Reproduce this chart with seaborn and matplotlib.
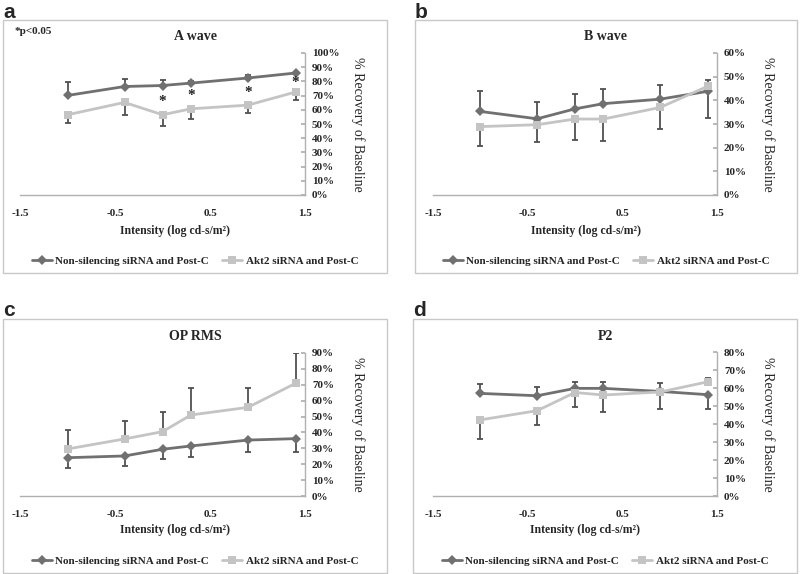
"""
ERG recovery panels (A wave, B wave, OP RMS, P2) — non-silencing vs Akt2 siRNA.
"""

import numpy as np
import pandas as pd
import matplotlib
matplotlib.use("Agg")
import matplotlib.pyplot as plt
from matplotlib.patches import Rectangle
from matplotlib.ticker import PercentFormatter, MultipleLocator
import seaborn as sns

# ── Data (% recovery of baseline) ────────────────────────────────────────────
intensity = [-1.0, -0.4, 0.0, 0.3, 0.9, 1.4]
groups = ["Non-silencing siRNA and Post-C", "Akt2 siRNA and Post-C"]

a_ns      = [70.1, 76.4, 77.1, 78.8, 82.4, 85.9]
a_ns_err  = [9.2, 5.5, 3.6, 1.8, 2.3, 1.0]
a_akt     = [56.5, 65.2, 56.5, 60.7, 63.3, 72.5]
a_akt_err = [5.9, 9.2, 7.6, 7.1, 5.7, 5.5]
star_x    = [0.0, 0.3, 0.9, 1.4]
star_y    = [67.0, 71.0, 73.5, 80.5]

b_ns      = [35.3, 32.2, 36.4, 38.6, 40.5, 43.8]
b_ns_err  = [8.5, 6.9, 6.4, 6.2, 5.8, 11.3]
b_akt     = [28.9, 29.7, 32.1, 32.1, 37.0, 45.9]
b_akt_err = [8.4, 7.5, 8.8, 9.2, 9.2, 2.8]

c_ns      = [24.1, 25.2, 29.4, 31.5, 35.2, 36.1]
c_ns_err  = [6.7, 6.1, 6.3, 6.8, 7.3, 8.2]
c_akt     = [29.6, 35.9, 40.5, 51.0, 55.8, 70.9]
c_akt_err = [11.9, 11.5, 12.6, 16.8, 12.0, 18.9]

d_ns      = [57.0, 55.7, 59.8, 59.8, 58.1, 56.3]
d_ns_err  = [5.2, 5.0, 3.8, 3.8, 4.6, 7.9]
d_akt     = [42.3, 47.4, 57.5, 56.1, 57.8, 63.4]
d_akt_err = [10.5, 7.9, 8.2, 9.6, 9.7, 2.0]

x_ticks = [-1.5, -0.5, 0.5, 1.5]
x_tick_labels = ["-1.5", "-0.5", "0.5", "1.5"]

# ── Style ─────────────────────────────────────────────────────────────────────
sns.set_theme(style="white")
plt.rcParams["font.family"] = ["Liberation Serif", "DejaVu Serif"]
plt.rcParams["axes.unicode_minus"] = False

DARK = "#707070"
LIGHT = "#c4c4c4"
ERR = "#505050"
AXIS = "#b0b0b0"
palette = {groups[0]: DARK, groups[1]: LIGHT}
markers = {groups[0]: "D", groups[1]: "s"}

W, H = 800, 574


def fx(px):
    return px / W


def fy(py):
    return 1 - py / H


def draw_panel(fig, letter, title, ns, ns_err, akt, akt_err, ymax, box, ax_px):
    bx0, by0, bx1, by1 = box
    fig.add_artist(Rectangle((fx(bx0), fy(by1)), fx(bx1 - bx0), (by1 - by0) / H,
                             transform=fig.transFigure, fill=False,
                             edgecolor="#c8c8c8", linewidth=1.0))
    fig.text(fx(bx0), fy(by0 - 8), letter, family=["Liberation Sans", "DejaVu Sans"],
             fontsize=15, fontweight="bold", ha="left", va="center")
    fig.text(fx((bx0 + bx1) / 2), fy(by0 + 17), title, fontsize=10,
             fontweight="bold", ha="center", va="center")

    l, t, r, b = ax_px
    ax = fig.add_axes([fx(l), fy(b), fx(r - l), (b - t) / H])
    ax.set_facecolor("none")

    # one-sided bars pointing away from the other series
    ns_a, akt_a = np.array(ns), np.array(akt)
    for vals, errs, other in [(ns_a, np.array(ns_err), akt_a),
                              (akt_a, np.array(akt_err), ns_a)]:
        up = vals >= other
        yerr = [np.where(up, 0, errs), np.where(up, errs, 0)]
        ax.errorbar(intensity, vals, yerr=yerr, fmt="none", ecolor=ERR,
                    elinewidth=1.3, capsize=2, capthick=1.3, zorder=1)

    df = pd.DataFrame({
        "Intensity": intensity * 2,
        "Recovery": list(ns) + list(akt),
        "Group": [groups[0]] * len(ns) + [groups[1]] * len(akt),
    })
    sns.lineplot(data=df, x="Intensity", y="Recovery", hue="Group", style="Group",
                 hue_order=groups, style_order=groups, palette=palette,
                 markers=markers, dashes=False, linewidth=2, markersize=5.5,
                 markeredgewidth=0, errorbar=None, sort=False, ax=ax, zorder=3)

    ax.set_xlim(-1.5, 1.5)
    ax.set_ylim(0, ymax)
    ax.set_xticks(x_ticks)
    ax.set_xticklabels(x_tick_labels)
    ax.yaxis.set_major_locator(MultipleLocator(10))
    ax.yaxis.set_major_formatter(PercentFormatter(decimals=0))
    ax.yaxis.tick_right()
    ax.yaxis.set_label_position("right")
    for s in ["top", "left"]:
        ax.spines[s].set_visible(False)
    for s in ["bottom", "right"]:
        ax.spines[s].set_color(AXIS)
        ax.spines[s].set_linewidth(1.0)
    ax.tick_params(axis="x", direction="in", length=3, color=AXIS, pad=10,
                   labelsize=8)
    ax.tick_params(axis="y", direction="in", length=3, color=AXIS, pad=5,
                   labelsize=8)
    for lab in ax.get_xticklabels() + ax.get_yticklabels():
        lab.set_fontweight("bold")

    ax.set_xlabel("Intensity (log cd-s/m²)", fontsize=8.5, fontweight="bold")
    label_top = 225 if by0 < 100 else 524
    ax.xaxis.set_label_coords(((bx0 + bx1) / 2 - 20 - l) / (r - l),
                              (b - label_top) / (b - t))
    ax.set_ylabel("% Recovery of Baseline", fontsize=10, rotation=270,
                  va="center")
    ax.yaxis.set_label_coords((bx1 - 29 - l) / (r - l), 0.5)

    legend_y = by1 - 12
    sns.move_legend(ax, "center",
                    bbox_to_anchor=(((bx0 + bx1) / 2 - l) / (r - l), (b - legend_y) / (b - t)),
                    ncol=2, frameon=False, title=None, handlelength=1.8,
                    columnspacing=1.2, handletextpad=0.3,
                    prop={"weight": "bold", "size": 8})
    return ax


fig = plt.figure(figsize=(W / 100, H / 100), dpi=100)

ax_a = draw_panel(fig, "a", "A wave", a_ns, a_ns_err, a_akt, a_akt_err, 100,
                  (3, 20, 387, 273), (20, 53, 305, 195))
draw_panel(fig, "b", "B wave", b_ns, b_ns_err, b_akt, b_akt_err, 60,
           (415, 20, 797, 273), (433, 53, 717, 195))
draw_panel(fig, "c", "OP RMS", c_ns, c_ns_err, c_akt, c_akt_err, 90,
           (3, 319, 387, 573), (20, 353, 305, 496))
draw_panel(fig, "d", "P2", d_ns, d_ns_err, d_akt, d_akt_err, 80,
           (413, 319, 797, 573), (433, 352, 717, 496))

# significance markers on panel a
for sx, sy in zip(star_x, star_y):
    ax_a.text(sx, sy, "*", fontsize=11, fontweight="bold", ha="center",
              va="center_baseline", color="#222222")
fig.text(fx(15), fy(32), "*p<0.05", fontsize=8, fontweight="bold",
         ha="left", va="center")

fig.savefig("out.png", dpi=100)
